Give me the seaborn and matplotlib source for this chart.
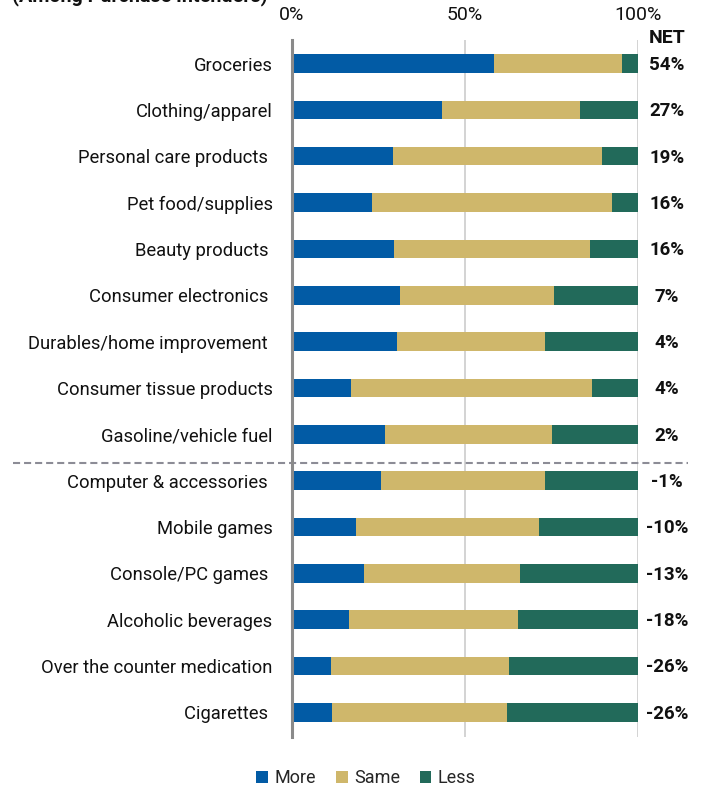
import matplotlib
matplotlib.use("Agg")
import matplotlib.pyplot as plt
import numpy as np
import pandas as pd
import seaborn as sns
from matplotlib.patches import Patch

title = "(Among Purchase Intenders)"
categories = [
    "Groceries", "Clothing/apparel", "Personal care products ", "Pet food/supplies",
    "Beauty products ", "Consumer electronics ", "Durables/home improvement ",
    "Consumer tissue products", "Gasoline/vehicle fuel", "Computer & accessories ",
    "Mobile games", "Console/PC games ", "Alcoholic beverages",
    "Over the counter medication", "Cigarettes ",
]
more = [58.4, 43.4, 29.3, 23.0, 29.6, 31.2, 30.3, 17.0, 26.8, 25.8, 18.4, 20.8, 16.4, 11.2, 11.6]
same = [37.0, 39.9, 60.4, 69.6, 56.6, 44.5, 42.9, 69.8, 48.2, 47.2, 53.0, 45.2, 49.0, 51.4, 50.6]
less = [4.6, 16.7, 10.3, 7.4, 13.8, 24.3, 26.8, 13.2, 25.0, 27.0, 28.6, 34.0, 34.6, 37.4, 37.8]
net_labels = ["54%", "27%", "19%", "16%", "16%", "7%", "4%", "4%", "2%",
              "-1%", "-10%", "-13%", "-18%", "-26%", "-26%"]
xtick_values = [0, 50, 100]
xtick_labels = ["0%", "50%", "100%"]
series_names = ["More", "Same", "Less"]

c_more, c_same, c_less = "#025ba5", "#cfb76b", "#226a5a"

sns.set_theme(style="white")
plt.rcParams["font.family"] = ["Roboto", "DejaVu Sans"]

W, H = 707, 788
fig = plt.figure(figsize=(W / 100, H / 100), dpi=100)
ax_left, ax_right, ax_top, ax_bot = 292, 638, 40, 737
ax = fig.add_axes([ax_left / W, 1 - ax_bot / H, (ax_right - ax_left) / W, (ax_bot - ax_top) / H])

df = pd.DataFrame({"cat": categories, "more": more, "same": same, "less": less})
df["more_same"] = df["more"] + df["same"]
df["total"] = df["more_same"] + df["less"]

for col, color in [("total", c_less), ("more_same", c_same), ("more", c_more)]:
    sns.barplot(data=df, y="cat", x=col, color=color, orient="h", width=0.4,
                saturation=1, order=categories, ax=ax, linewidth=0, zorder=3)

ax.set_xlim(0, 100)
ax.set_ylim(14.53, -0.507)
ax.set_xlabel("")
ax.set_ylabel("")

ax.xaxis.tick_top()
ax.set_xticks(xtick_values)
ax.set_xticklabels(xtick_labels, fontsize=14, color="#111111")
ax.tick_params(axis="x", length=0, pad=11.5)
ax.tick_params(axis="y", length=0, pad=14, labelsize=13.2, labelcolor="#111111")

for s in ["top", "right", "bottom"]:
    ax.spines[s].set_visible(False)
ax.spines["left"].set_color("#8a8a8a")
ax.spines["left"].set_linewidth(2.2)
ax.spines["left"].set_zorder(5)

for xv in xtick_values[1:]:
    ax.axvline(xv, color="#cccccc", lw=1.2, zorder=1)

# separator between positive and negative NET
x0 = (13 - ax_left) / (ax_right - ax_left)
x1 = (688 - ax_left) / (ax_right - ax_left)
ax.axhline(8.62, xmin=x0, xmax=x1, color="#8c8c96", lw=1.5,
           linestyle=(0, (3.4, 1.9)), clip_on=False, zorder=4)

# NET column
ax.text(108.4, -0.56, "NET", ha="center", va="center", fontsize=14,
        fontweight="bold", color="#111111", clip_on=False)
for i, lab in enumerate(net_labels):
    ax.text(108.4, i + 0.03, lab, ha="center", va="center", fontsize=13.5,
            fontweight="bold", color="#111111", clip_on=False)

fig.text(12 / W, 1 - 1.5 / H, title, ha="left", va="baseline", fontsize=14.2,
         fontweight="bold", color="#111111")

handles = [Patch(facecolor=c, edgecolor="none") for c in (c_more, c_same, c_less)]
fig.legend(handles, series_names, loc="center", bbox_to_anchor=(366 / W, 1 - 778 / H),
           ncol=3, frameon=False, fontsize=13, handlelength=0.65, handleheight=0.65,
           handletextpad=0.35, columnspacing=1.1)

fig.savefig("out.png", dpi=100)
